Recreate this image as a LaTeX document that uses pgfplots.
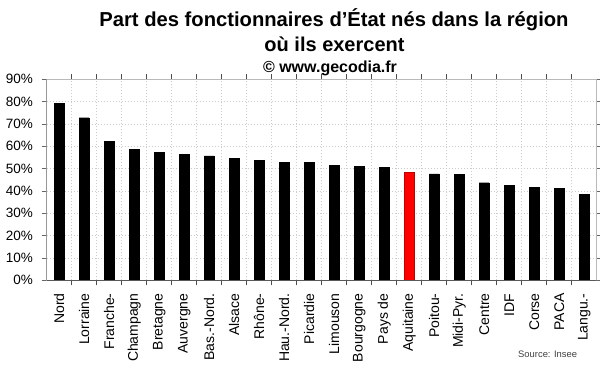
\documentclass[border=0pt]{standalone}
\usepackage{fontspec}
\setmainfont{Liberation Sans}
\usepackage{pgfplots}
\pgfplotsset{compat=1.18}
\begin{document}
\begin{tikzpicture}
\useasboundingbox (0,0) rectangle (600pt,372pt);
\fill[white] (0,0) rectangle (600pt,372pt);
\begin{axis}[
  at={(46.7pt,91.7pt)}, anchor=south west,
  scale only axis, width=550pt, height=201pt,
  xmin=-0.5, xmax=21.5, ymin=0, ymax=90,
  ytick={0,10,20,30,40,50,60,70,80,90},
  yticklabels={0\%,10\%,20\%,30\%,40\%,50\%,60\%,70\%,80\%,90\%},
  xtick={0,...,21},
  xticklabels={Nord,Lorraine,Franche-,Champagn,Bretagne,Auvergne,Bas.-Nord.,Alsace,Rhône-,Hau.-Nord.,Picardie,Limouson,Bourgogne,Pays de,Aquitaine,Poitou-,Midi-Pyr.,Centre,IDF,Corse,PACA,Langu.-},
  minor x tick num=1,
  xminorgrids=true, ymajorgrids=true, xmajorgrids=false,
  major grid style={draw=gray!40, dash pattern=on 1.5pt off 1.5pt, line width=0.5pt},
  minor grid style={draw=gray!40, dash pattern=on 1.5pt off 1.5pt, line width=0.5pt},
  tick align=outside, major tick length=5pt, minor tick length=5pt,
  major x tick style={draw=none},
  minor x tick style={draw=black!70, line width=0.6pt},
  ytick style={draw=black!60, line width=0.6pt},
  axis line style={draw=gray!55, line width=0.6pt},
  xticklabel style={font=\fontsize{14}{15}\selectfont, yshift=-8pt, rotate=90, anchor=east, inner sep=0pt},
  yticklabel style={font=\fontsize{13.5}{14}\selectfont, inner sep=0pt, xshift=-8.5pt},
  ybar, bar width=10pt,
]
\addplot[fill=black, draw=black, bar shift=0pt] coordinates {
(0,79.3) (1,72.8) (2,62.1) (3,58.7) (4,57.3) (5,56.4) (6,55.7) (7,54.6) (8,53.7) (9,52.8) (10,52.7)
(11,51.5) (12,50.9) (13,50.6) (15,47.6) (16,47.3) (17,43.7) (18,42.5) (19,41.6) (20,41.3) (21,38.5)};
\addplot[fill=red, draw=red!75!black, bar shift=0pt] coordinates {(14,48.4)};
\draw[black!65, line width=0.7pt] (rel axis cs:0,1) -- (rel axis cs:0,0) -- (rel axis cs:1,0);
\end{axis}
\node[anchor=base, font=\fontsize{20.2}{21}\selectfont\bfseries] at (334pt,345pt) {Part des fonctionnaires d'État nés dans la région};
\node[anchor=base, font=\fontsize{20}{21}\selectfont\bfseries] at (334.5pt,320pt) {où ils exercent};
\node[anchor=base, font=\fontsize{16}{17}\selectfont\bfseries] at (330pt,299.7pt) {© www.gecodia.fr};
\node[anchor=base west, inner sep=0pt, font=\fontsize{9.4}{10}\selectfont, text=black!75] at (518pt,14pt) {Source: Insee};
\end{tikzpicture}
\end{document}
